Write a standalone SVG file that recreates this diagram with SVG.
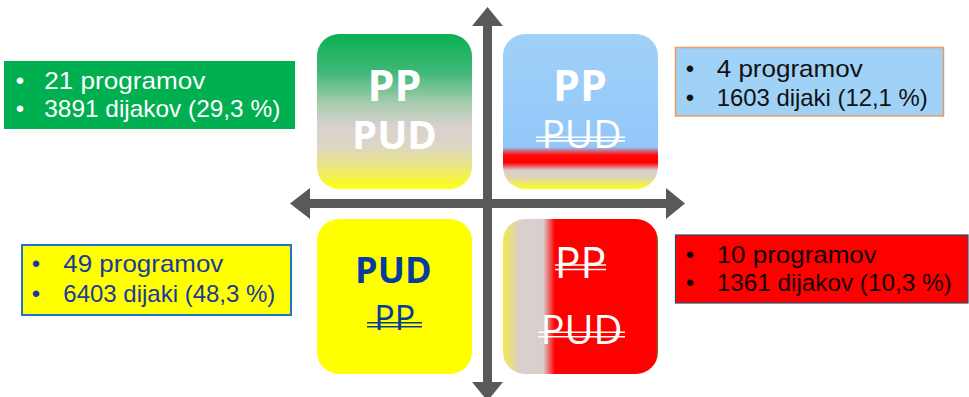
<svg xmlns="http://www.w3.org/2000/svg" width="969" height="397" viewBox="0 0 969 397">
<style>
.lst{font-family:"Liberation Sans","DejaVu Sans",sans-serif;font-size:24px;}
.big{font-family:"Open Sans","Noto Sans",sans-serif;text-anchor:middle;}
.b{font-weight:700;}
.r{font-weight:400;}
.bul{text-anchor:middle;font-size:24px;}
.ax{fill:#595959;}
</style>
<defs>
<linearGradient id="gGreen" x1="0" y1="0" x2="0" y2="1">
<stop offset="0" stop-color="#0cb050"/>
<stop offset="0.25" stop-color="#40b878"/>
<stop offset="0.45" stop-color="#a8cdb0"/>
<stop offset="0.6" stop-color="#d9d1cf"/>
<stop offset="0.72" stop-color="#dcd6c6"/>
<stop offset="0.86" stop-color="#ece680"/>
<stop offset="1" stop-color="#ffff10"/>
</linearGradient>
<linearGradient id="gBlue" x1="0" y1="0" x2="0" y2="1">
<stop offset="0" stop-color="#a0d1f6"/>
<stop offset="0.73" stop-color="#92c7fa"/>
<stop offset="0.78" stop-color="#ff0a0a"/>
<stop offset="0.83" stop-color="#ff0000"/>
<stop offset="0.88" stop-color="#d9cfcf"/>
<stop offset="0.93" stop-color="#ddd5b0"/>
<stop offset="1" stop-color="#ffff10"/>
</linearGradient>
<linearGradient id="gRed" x1="0" y1="0" x2="1" y2="0">
<stop offset="0" stop-color="#f2e850"/>
<stop offset="0.11" stop-color="#d9cfcc"/>
<stop offset="0.26" stop-color="#d9cfcc"/>
<stop offset="0.335" stop-color="#ff0000"/>
<stop offset="0.985" stop-color="#ff0000"/>
<stop offset="1" stop-color="#7a6a2a"/>
</linearGradient>
</defs>

<g id="axes">
<path class="ax" d="M483,26 L472,26 L487.5,7 L503,26 L492,26 L492,382 L503,382 L487.5,401 L472,382 L483,382 Z"/>
<path class="ax" d="M310,199 L310,188 L290,203.5 L310,219 L310,208 L666,208 L666,219 L685,203.5 L666,188 L666,199 Z"/>
</g>

<g id="q-green">
<rect x="317" y="34" width="155" height="155" rx="22" fill="url(#gGreen)"/>
<text class="big b" x="394.5" y="101" font-size="43" fill="#ffffff">PP</text>
<text class="big b" x="394.5" y="149" font-size="40" fill="#ffffff">PUD</text>
</g>

<g id="q-blue">
<rect x="503" y="34" width="155" height="155" rx="22" fill="url(#gBlue)"/>
<text class="big b" x="580" y="101" font-size="43" fill="#ffffff">PP</text>
<text class="big r" x="581.5" y="148" font-size="39" fill="#ffffff">PUD</text>
<g stroke="#ffffff" stroke-width="1.6">
<line x1="536" y1="137.3" x2="625" y2="137.3"/>
<line x1="536" y1="140.9" x2="625" y2="140.9"/>
</g>
</g>

<g id="q-yellow">
<rect x="317" y="219" width="155" height="155" rx="22" fill="#ffff00"/>
<text class="big b" x="393.3" y="283.3" font-size="36" fill="#063c9c">PUD</text>
<text class="big r" x="394.8" y="330" font-size="34" fill="#063c9c">PP</text>
<g stroke="#063c9c" stroke-width="1.6">
<line x1="367" y1="322.7" x2="422" y2="322.7"/>
<line x1="367" y1="326.7" x2="422" y2="326.7"/>
</g>
</g>

<g id="q-red">
<rect x="503" y="219" width="155" height="155" rx="22" fill="url(#gRed)"/>
<text class="big r" x="580.5" y="277.7" font-size="43" fill="#ffffff">PP</text>
<text class="big r" x="581.5" y="344" font-size="40" fill="#ffffff">PUD</text>
<g stroke="#ffffff" stroke-width="1.6">
<line x1="555" y1="265" x2="606" y2="265"/>
<line x1="555" y1="269.5" x2="606" y2="269.5"/>
<line x1="538" y1="332.3" x2="625" y2="332.3"/>
<line x1="538" y1="336.7" x2="625" y2="336.7"/>
</g>
</g>

<g id="box-green">
<rect x="4" y="61" width="291" height="68" fill="#00b050"/>
<g class="lst" fill="#ffffff">
<text class="bul" x="20" y="88.5">•</text>
<text x="44.3" y="88.5" textLength="161" lengthAdjust="spacingAndGlyphs">21 programov</text>
<text class="bul" x="20" y="117">•</text>
<text x="44.3" y="117" textLength="236" lengthAdjust="spacingAndGlyphs">3891 dijakov (29,3 %)</text>
</g>
</g>

<g id="box-blue">
<rect x="675.5" y="47.5" width="268" height="68.5" fill="#a0d1f7" stroke="#ee9a5c" stroke-width="1.5"/>
<g class="lst" fill="#111111">
<text class="bul" x="690" y="77">•</text>
<text x="716.7" y="77" textLength="146" lengthAdjust="spacingAndGlyphs">4 programov</text>
<text class="bul" x="690" y="105.5">•</text>
<text x="716.7" y="105.5" textLength="211" lengthAdjust="spacingAndGlyphs">1603 dijaki (12,1 %)</text>
</g>
</g>

<g id="box-red">
<rect x="675.5" y="235" width="292.5" height="68" fill="#ff0000" stroke="#2f4a6a" stroke-width="1.2"/>
<g class="lst" fill="#140000">
<text class="bul" x="690" y="262.7">•</text>
<text x="716.7" y="262.7" textLength="160" lengthAdjust="spacingAndGlyphs">10 programov</text>
<text class="bul" x="690" y="290.7">•</text>
<text x="716.7" y="290.7" textLength="235" lengthAdjust="spacingAndGlyphs">1361 dijakov (10,3 %)</text>
</g>
</g>

<g id="box-yellow">
<rect x="22" y="245" width="269" height="70" fill="#ffff00" stroke="#1f74c8" stroke-width="2"/>
<g class="lst" fill="#1a3a9a">
<text class="bul" x="36" y="272.3">•</text>
<text x="63.3" y="272.3" textLength="160" lengthAdjust="spacingAndGlyphs">49 programov</text>
<text class="bul" x="36" y="301.7">•</text>
<text x="63.3" y="301.7" textLength="212" lengthAdjust="spacingAndGlyphs">6403 dijaki (48,3 %)</text>
</g>
</g>
</svg>
